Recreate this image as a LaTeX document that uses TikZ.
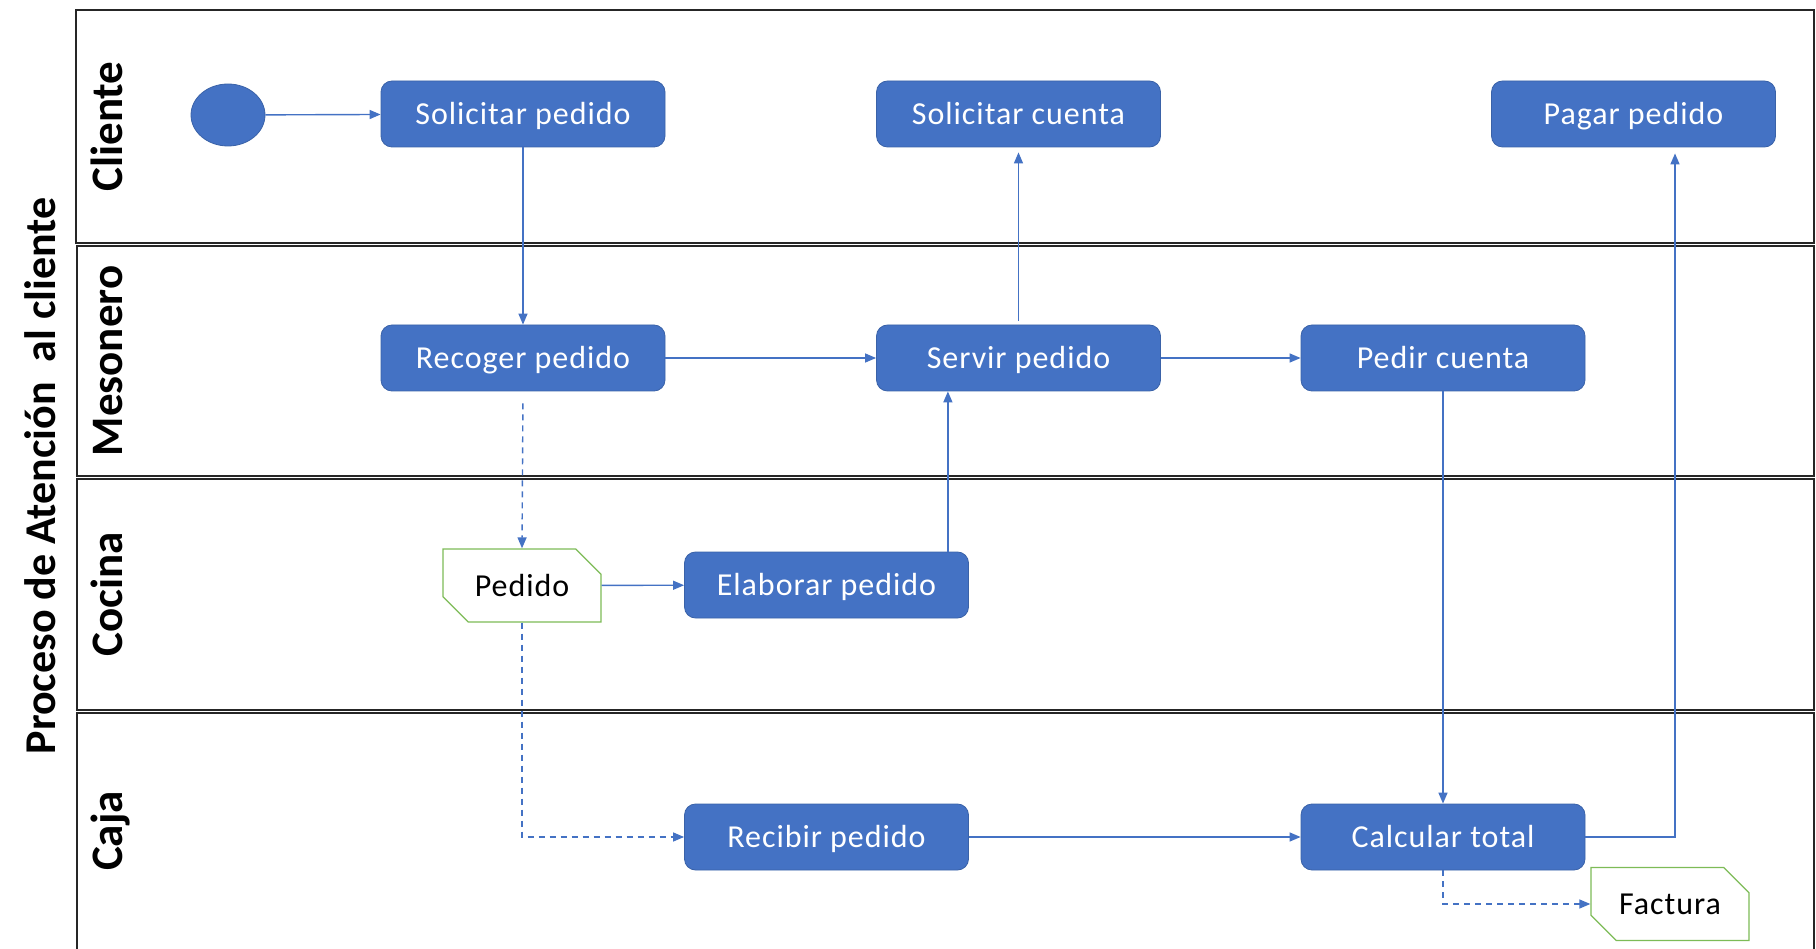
\documentclass[tikz,border=0pt]{standalone}
\usepackage{fontspec}
\setmainfont{Carlito}
\newfontfamily\boxfont[LetterSpace=3]{Carlito}
\usetikzlibrary{arrows.meta,shapes.misc,shapes.geometric}
\definecolor{officeblue}{HTML}{4472C4}
\definecolor{boxedge}{HTML}{3A62A8}
\definecolor{docgreen}{HTML}{7DBB57}
\tikzset{
  lane/.style={draw=black!85, line width=1.6pt},
  lanelabel/.style={rotate=90, anchor=base, font=\fontsize{45}{50}\selectfont\bfseries},
  task/.style={rectangle, rounded corners=11pt, fill=officeblue, draw=boxedge, line width=0.8pt,
    minimum width=284pt, minimum height=66pt, text=white, inner sep=0pt,
    text height=23pt, text depth=1.5pt,
    font=\boxfont\fontsize{32}{36}\selectfont},
  doc/.style={chamfered rectangle, chamfered rectangle corners={north east,south west},
    chamfered rectangle xsep=13pt, chamfered rectangle ysep=13pt,
    draw=docgreen, line width=1.3pt, fill=white, minimum width=158pt, minimum height=73pt,
    inner sep=0pt, text=black, text height=23pt, text depth=1.5pt,
    font=\boxfont\fontsize{32}{36}\selectfont},
  startnode/.style={ellipse, fill=officeblue, draw=boxedge, line width=0.8pt,
    minimum width=74pt, minimum height=62pt, inner sep=0pt},
  flow/.style={draw=officeblue, line width=1.4pt, -{Triangle[length=11pt,width=9pt]}},
  dataflow/.style={flow, dashed, dash pattern=on 6pt off 5pt},
}
\begin{document}
\begin{tikzpicture}[x=1pt,y=-1pt]
  \useasboundingbox (0,0) rectangle (1816,949);

  % swimlanes
  \draw[lane] (76,10) rectangle (1814,243);
  \draw[lane] (77,246) rectangle (1814,476);
  \draw[lane] (77,479) rectangle (1814,710);
  \draw[lane] (77,713) rectangle (1814,952);

  % lane and process titles
  \node[lanelabel, font=\fontsize{44}{50}\selectfont\bfseries] (tproc) at (55,476) {Proceso de Atención\ \ al cliente};
  \node[lanelabel] (lcli) at (122,126.5) {Cliente};
  \node[lanelabel] (lmes) at (122,361) {Mesonero};
  \node[lanelabel] (lcoc) at (122,594) {Cocina};
  \node[lanelabel] (lcaj) at (122,831) {Caja};

  % activities
  \node[startnode] (start) at (228,115) {};
  \node[task] (sp) at (523,114) {Solicitar pedido};
  \node[task] (sc) at (1018.5,114) {Solicitar cuenta};
  \node[task] (pp) at (1633.5,114) {Pagar pedido};
  \node[task] (rp) at (523,358) {Recoger pedido};
  \node[task] (sv) at (1018.5,358) {Servir pedido};
  \node[task] (pc) at (1443,358) {Pedir cuenta};
  \node[doc]  (ped) at (522,585.5) {Pedido};
  \node[task] (ep) at (826.5,585) {Elaborar pedido};
  \node[task] (rcp) at (826.5,837) {Recibir pedido};
  \node[task] (ct) at (1443,837) {Calcular total};
  \node[doc]  (fac) at (1670,904) {Factura};

  % control flow
  \draw[flow] (start) -- (sp);
  \draw[flow] (sp) -- (rp);
  \draw[flow] (rp) -- (sv);
  \draw[flow, shorten <=4pt, shorten >=5pt] (sv) -- (sc);
  \draw[flow] (sv.east) -- (pc.west);
  \draw[flow] (ped) -- (ep);
  \draw[flow] ([xshift=-21pt]ep.north east) -- ([xshift=-21pt]ep.north east |- sv.south);
  \draw[flow] (rcp) -- (ct);
  \draw[flow] (pc) -- (ct);
  \draw[flow, shorten >=6pt] (ct.east) -| ([xshift=41.5pt]pp.south);

  % object flow
  \draw[dataflow, shorten <=12pt] (rp.south) -- (ped.north);
  \draw[dataflow] (ped.south) |- (rcp.west);
  \draw[dataflow] (ct.south) |- (fac.west);
\end{tikzpicture}
\end{document}
